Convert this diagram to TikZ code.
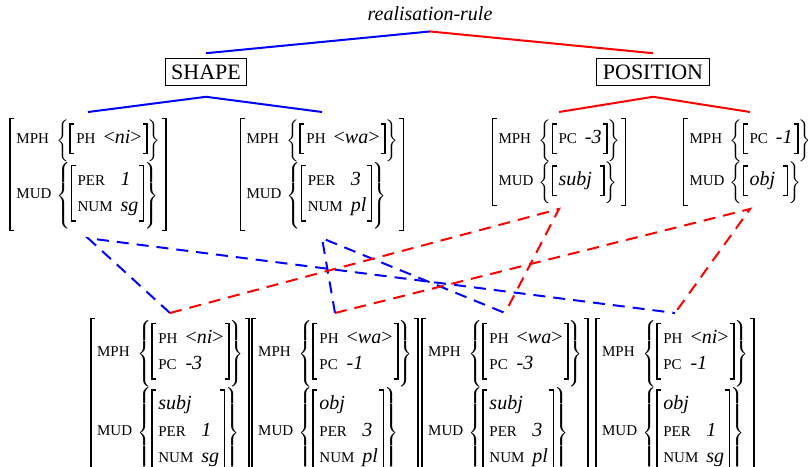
\documentclass[tikz,border=0pt]{standalone}
\usepackage{amsmath}
\usepackage{exscale}
\usepackage{fontspec}
\setmainfont{Liberation Serif}
\newdimen\setht \newdimen\setdp \newdimen\avmht \newdimen\avmdp
\newbox\setbx \newbox\avmbx
\newcommand{\ft}[1]{\mbox{\fontsize{7.5}{9}\selectfont #1}}
\newcommand{\vl}[1]{\mbox{\fontsize{10}{12}\selectfont\itshape #1}}
\newcommand{\ang}[1]{\mbox{\fontsize{10}{12}\selectfont <\textit{#1}>}}
\newcommand{\crly}[3]{\mbox{\fontsize{4.5}{6}\selectfont\delimiterfactor=1000\delimitershortfall=0pt\nulldelimiterspace=0pt$\left#1\vrule height #2 depth #3 width 0pt\right.$}}
\newcommand{\lbk}[2]{\hbox{\vrule width .7pt height #1 depth #2\lower#2\vbox to \dimexpr#1+#2\relax{\hrule width 1.8pt height .6pt\vfill\hrule width 1.8pt height .6pt}}}
\newcommand{\rbk}[2]{\hbox{\lower#2\vbox to \dimexpr#1+#2\relax{\hrule width 1.8pt height .6pt\vfill\hrule width 1.8pt height .6pt}\vrule width .7pt height #1 depth #2}}
\newcommand{\avm}[1]{\setbox\avmbx=\hbox{$\renewcommand{\arraystretch}{1.1}\begin{array}{@{\hspace{1pt}}l@{\hspace{2.5pt}}l@{\hspace{0.5pt}}}#1\end{array}$}%
  \avmht=\dimexpr\ht\avmbx+1pt\relax\avmdp=\dimexpr\dp\avmbx+1pt\relax
  \lbk{\avmht}{\avmdp}\copy\avmbx\rbk{\avmht}{\avmdp}}
\newcommand{\setv}[1]{\setbox\setbx=\hbox{$\renewcommand{\arraystretch}{1.1}\begin{array}{@{\hspace{1pt}}l@{\hspace{4pt}}l@{\hspace{0.5pt}}}#1\end{array}$}%
  \setht=\dimexpr\ht\setbx+1pt\relax\setdp=\dimexpr\dp\setbx+1pt\relax
  \crly\{{\setht}{\setdp}\lbk{\setht}{\setdp}\copy\setbx\rbk{\setht}{\setdp}\crly\}{\setht}{\setdp}}
\begin{document}
\begin{tikzpicture}[x=0.5pt,y=-0.5pt,
  typebox/.style={draw,inner sep=3pt,font=\fontsize{11}{13}\selectfont},
  fstr/.style={inner sep=0pt,outer sep=0pt,anchor=north},
  bline/.style={blue,line width=1pt},
  rline/.style={red,line width=1pt},
  bdash/.style={blue,line width=1pt,dash pattern=on 6pt off 4pt},
  rdash/.style={red,line width=1pt,dash pattern=on 6pt off 4pt}]
\useasboundingbox (0,0) rectangle (808,466);
\node[inner sep=0pt] (rule) at (430,14) {\textit{realisation-rule}};
\node[typebox] (shape) at (206,72) {SHAPE};
\node[typebox] (pos) at (653,72) {POSITION};
\node[fstr] (t1) at (88,118) {\avm{\ft{MPH} & \setv{\ft{PH} & \ang{ni}} \\[2pt] \ft{MUD} & \setv{\ft{PER} & \vl{1}\\ \ft{NUM} & \vl{sg}}}};
\node[fstr] (t2) at (322,118) {\avm{\ft{MPH} & \setv{\ft{PH} & \ang{wa}} \\[2pt] \ft{MUD} & \setv{\ft{PER} & \vl{3}\\ \ft{NUM} & \vl{pl}}}};
\node[fstr] (t3) at (559,118) {\avm{\ft{MPH} & \setv{\ft{PC} & \vl{-3}} \\[2pt] \ft{MUD} & \setv{\vl{subj}}}};
\node[fstr] (t4) at (750,118) {\avm{\ft{MPH} & \setv{\ft{PC} & \vl{-1}} \\[2pt] \ft{MUD} & \setv{\vl{obj}}}};
\node[fstr] (b1) at (170,318) {\avm{\ft{MPH} & \setv{\ft{PH} & \ang{ni}\\ \ft{PC} & \vl{-3}} \\[4pt] \ft{MUD} & \setv{\vl{subj} & \\ \ft{PER} & \vl{1}\\ \ft{NUM} & \vl{sg}}}};
\node[fstr] (b2) at (335,318) {\avm{\ft{MPH} & \setv{\ft{PH} & \ang{wa}\\ \ft{PC} & \vl{-1}} \\[4pt] \ft{MUD} & \setv{\vl{obj} & \\ \ft{PER} & \vl{3}\\ \ft{NUM} & \vl{pl}}}};
\node[fstr] (b3) at (505,318) {\avm{\ft{MPH} & \setv{\ft{PH} & \ang{wa}\\ \ft{PC} & \vl{-3}} \\[4pt] \ft{MUD} & \setv{\vl{subj} & \\ \ft{PER} & \vl{3}\\ \ft{NUM} & \vl{pl}}}};
\node[fstr] (b4) at (675,318) {\avm{\ft{MPH} & \setv{\ft{PH} & \ang{ni}\\ \ft{PC} & \vl{-1}} \\[4pt] \ft{MUD} & \setv{\vl{obj} & \\ \ft{PER} & \vl{1}\\ \ft{NUM} & \vl{sg}}}};
\draw[bline] ([yshift=2.5pt]shape.north) -- ([yshift=-5pt]rule.south);
\draw[rline] ([yshift=-5pt]rule.south) -- ([yshift=2.5pt]pos.north);
\draw[bline] ([yshift=3pt]t1.north) -- ([yshift=-5.5pt]shape.south) -- ([yshift=3pt]t2.north);
\draw[rline] ([yshift=3pt]t3.north) -- ([yshift=-5.5pt]pos.south) -- ([yshift=3pt]t4.north);
\draw[bdash] ([yshift=2.5pt]b1.north) -- ([yshift=-3.5pt]t1.south) -- ([yshift=2.5pt]b4.north);
\draw[bdash] ([yshift=2.5pt]b2.north) -- ([yshift=-3.5pt]t2.south) -- ([yshift=2.5pt]b3.north);
\draw[rdash] ([yshift=2.5pt]b1.north) -- ([yshift=-1.5pt]t3.south) -- ([yshift=2.5pt]b3.north);
\draw[rdash] ([yshift=2.5pt]b2.north) -- ([yshift=-1.5pt]t4.south) -- ([yshift=2.5pt]b4.north);
\end{tikzpicture}
\end{document}
